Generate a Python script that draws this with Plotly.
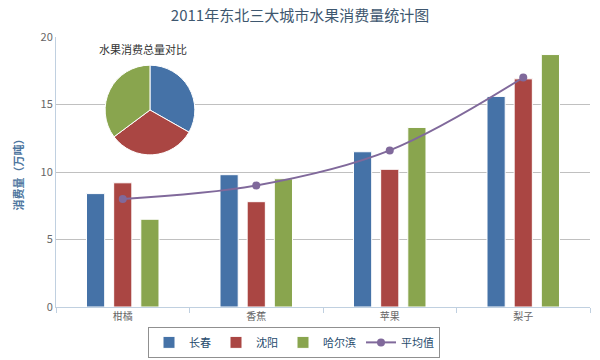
import plotly.graph_objects as go

categories = ["柑橘", "香蕉", "苹果", "梨子"]
changchun = [8.4, 9.8, 11.5, 15.6]
shenyang = [9.2, 7.8, 10.2, 16.9]
harbin = [6.5, 9.5, 13.3, 18.7]
average = [8.0, 9.0, 11.6, 17.0]
pie_labels = ["长春", "沈阳", "哈尔滨"]
pie_values = [45.3, 43.1, 48.0]

colors = ["#4572A7", "#AA4643", "#89A54E", "#80699B"]
FONT = "Noto Sans CJK SC"

fig = go.Figure()
for name, vals, c in zip(pie_labels, [changchun, shenyang, harbin], colors):
    fig.add_trace(go.Bar(x=categories, y=vals, name=name,
                         marker=dict(color=c, line=dict(color="white", width=1))))
fig.add_trace(go.Scatter(x=categories, y=average, name="平均值", mode="lines+markers",
                         line=dict(color=colors[3], width=2, shape="spline"),
                         marker=dict(color=colors[3], size=8)))
fig.add_trace(go.Pie(labels=pie_labels, values=pie_values, showlegend=False,
                     sort=False, direction="clockwise", rotation=0,
                     textinfo="none", hoverinfo="label+value",
                     marker=dict(colors=colors[:3], line=dict(color="white", width=1)),
                     domain=dict(x=[0.092, 0.26], y=[0.563, 0.896])))

fig.update_layout(
    width=600, height=360,
    margin=dict(l=56, r=10, t=37, b=53, autoexpand=False),
    paper_bgcolor="white", plot_bgcolor="white",
    font=dict(family=FONT, color="#666666", size=11),
    title=dict(text="2011年东北三大城市水果消费量统计图", x=0.5, xanchor="center",
               y=0.97, yanchor="top", font=dict(size=15, color="#3E576F")),
    barmode="group", bargap=0.39, bargroupgap=0.33,
    showlegend=True,
    legend=dict(orientation="h", xref="container", yref="container",
                x=0.49, xanchor="center", y=0.092, yanchor="top",
                bordercolor="#909090", borderwidth=1, font=dict(size=11, color="#274B6D"),
                traceorder="normal", itemwidth=30, tracegroupgap=0),
    annotations=[dict(text="水果消费总量对比", x=0.163, y=0.92, xref="paper", yref="paper",
                      xanchor="center", yanchor="bottom", showarrow=False,
                      font=dict(size=11, color="#333333"))],
)
fig.update_xaxes(showline=True, linecolor="#C0D0E0", linewidth=1, ticks="outside",
                 tickson="boundaries", tickcolor="#C0D0E0", ticklen=5, automargin=False,
                 showgrid=False, tickfont=dict(size=10, color="#666666"))
fig.update_yaxes(range=[0, 20], dtick=5, showgrid=True, gridcolor="#C0C0C0",
                 showline=True, linecolor="#C0D0E0", zeroline=False, automargin=False,
                 title=dict(text="<b>消费量（万吨）</b>", font=dict(size=11, color="#4D759E"), standoff=14),
                 tickfont=dict(size=11, color="#666666"))

fig.write_html("out.html", config={"displayModeBar": False},
               post_script="document.body.style.margin='0';")
